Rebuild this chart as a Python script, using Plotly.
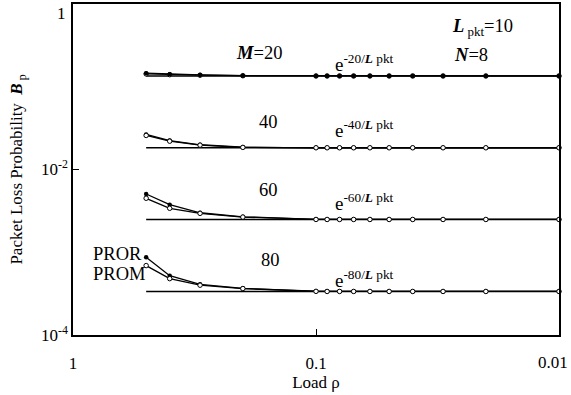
import plotly.graph_objects as go

rho = [0.5, 0.4, 0.3, 0.2, 0.1, 0.09, 0.08, 0.07, 0.06, 0.05, 0.04, 0.03, 0.02, 0.01]
M_values = [20, 40, 60, 80]
pror = {
    20: [0.146, 0.142, 0.139, 0.136, 0.135, 0.135, 0.135, 0.135, 0.135, 0.135, 0.135, 0.135, 0.135, 0.135],
    40: [0.0265, 0.0224, 0.0199, 0.0186, 0.0183, 0.0183, 0.0183, 0.0183, 0.0183, 0.0183, 0.0183, 0.0183, 0.0183, 0.0183],
    60: [0.00506, 0.00376, 0.0030, 0.00268, 0.00250, 0.00249, 0.00249, 0.00249, 0.00249, 0.00249, 0.00249, 0.00249, 0.00249, 0.00249],
    80: [0.00087, 0.00052, 0.00041, 0.000366, 0.000338, 0.000337, 0.000337, 0.000336, 0.000336, 0.000336, 0.000336, 0.000336, 0.000336, 0.000336],
}
prom = {
    20: [0.143, 0.140, 0.138, 0.136, 0.135, 0.135, 0.135, 0.135, 0.135, 0.135, 0.135, 0.135, 0.135, 0.135],
    40: [0.0258, 0.0220, 0.0197, 0.0185, 0.0183, 0.0183, 0.0183, 0.0183, 0.0183, 0.0183, 0.0183, 0.0183, 0.0183, 0.0183],
    60: [0.00449, 0.0034, 0.00295, 0.00266, 0.00249, 0.00249, 0.00249, 0.00249, 0.00249, 0.00249, 0.00249, 0.00249, 0.00249, 0.00249],
    80: [0.00069, 0.00048, 0.000400, 0.000364, 0.000337, 0.000336, 0.000336, 0.000336, 0.000336, 0.000336, 0.000336, 0.000336, 0.000336, 0.000336],
}
bound_rho = [0.5, 0.01]
bound_vals = {20: 0.1353, 40: 0.0183, 60: 0.00248, 80: 0.000335}

x_tickvals = [1, 0.1]
x_ticktext = ["1", "0.1"]
x_edge_label = "0.01"
y_tickvals = [1e-2, 1e-4]
y_ticktext = ["10<sup>-2</sup>", "10<sup>-4</sup>"]
y_edge_label = "1"

FONT = "Liberation Serif, Times New Roman, serif"

fig = go.Figure()
for m in M_values:
    fig.add_trace(go.Scatter(x=bound_rho, y=[bound_vals[m]] * 2, mode="lines",
                             line=dict(color="black", width=1.5), showlegend=False, cliponaxis=False))
    if m == 20:
        order = [("PROM", prom[m], "circle-open"), ("PROR", pror[m], "circle")]
    else:
        order = [("PROR", pror[m], "circle"), ("PROM", prom[m], "circle-open")]
    for name, vals, sym in order:
        marker = dict(size=4.5, color="black", symbol="circle") if sym == "circle" else \
            dict(size=4.5, color="white", symbol="circle", line=dict(color="black", width=1))
        fig.add_trace(go.Scatter(x=rho, y=vals, mode="lines+markers", name=name,
                                 line=dict(color="black", width=1.3), marker=marker,
                                 showlegend=False, cliponaxis=False))

L, R, T, B = 73, 559, 4, 335
W, H = R - L, B - T

def px(x):
    return (x - L) / W

def py(y):
    return (B - y) / H

annos = [
    ("<b><i>M</i></b>=20", 259, 53),
    ("40", 268, 122),
    ("60", 268, 190),
    ("80", 270, 260),
    ("<b><i>L</i></b><sub> pkt</sub>=10", 482, 28),
    ("<b><i>N</i></b>=8", 471, 55),
    ("PROR", 117, 254),
    ("PROM", 119, 274),
]
for txt, x, y in annos:
    fig.add_annotation(text=txt, x=px(x), y=py(y), xref="paper", yref="paper",
                       xanchor="center", yanchor="middle", showarrow=False,
                       font=dict(family=FONT, size=18.5, color="black"))

for m, y in zip(M_values, [63, 129, 202, 279]):
    fig.add_annotation(text="e<sup>-%d/<b><i>L</i></b> pkt</sup>" % m, x=px(333), y=py(y),
                       xref="paper", yref="paper", xanchor="left", yanchor="middle",
                       showarrow=False, font=dict(family=FONT, size=19, color="black"))

# edge tick labels (placed inside the page as in the reference)
fig.add_annotation(text=x_edge_label, x=px(570), y=py(362), xref="paper", yref="paper",
                   xanchor="right", yanchor="middle", showarrow=False,
                   font=dict(family=FONT, size=17, color="black"))
fig.add_annotation(text=y_edge_label, x=px(68), y=py(14), xref="paper", yref="paper",
                   xanchor="right", yanchor="middle", showarrow=False,
                   font=dict(family=FONT, size=17, color="black"))

fig.update_layout(
    width=571, height=395,
    margin=dict(l=L, r=571 - R, t=T, b=395 - B),
    plot_bgcolor="white", paper_bgcolor="white",
    font=dict(family=FONT, size=17, color="black"),
    showlegend=False,
)
fig.update_xaxes(type="log", range=[0, -2], tickvals=x_tickvals, ticktext=x_ticktext,
                 ticks="inside", ticklen=6, tickcolor="black", showgrid=False, zeroline=False,
                 showline=True, linecolor="black", linewidth=1.5, mirror=True,
                 ticklabeloverflow="allow", automargin=False,
                 tickfont=dict(family=FONT, size=17), ticklabelstandoff=12,
                 title=dict(text="Load ρ", font=dict(family=FONT, size=17), standoff=0))
fig.update_yaxes(type="log", range=[-4, 0], tickvals=y_tickvals, ticktext=y_ticktext,
                 ticks="inside", ticklen=6, tickcolor="black", showgrid=False, zeroline=False,
                 showline=True, linecolor="black", linewidth=1.5, mirror=True,
                 ticklabeloverflow="allow", automargin=False,
                 tickfont=dict(family=FONT, size=17),
                 title=dict(text="Packet Loss Probability  <b><i>B</i></b><sub> p</sub>",
                            font=dict(family=FONT, size=17), standoff=14))

fig.write_html("out.html")
